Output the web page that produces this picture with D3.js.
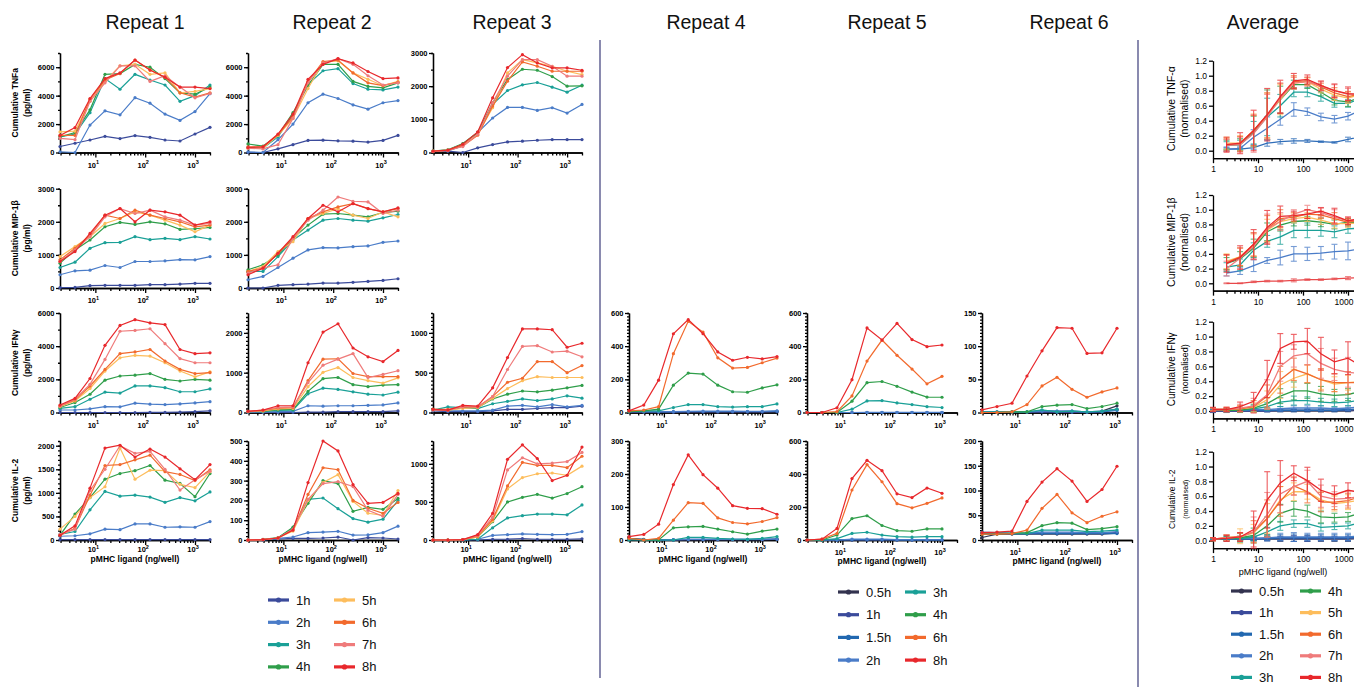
<!DOCTYPE html>
<html><head><meta charset="utf-8">
<script src="https://cdn.jsdelivr.net/npm/d3@7"></script>
<style>body{margin:0;background:#fff}svg{display:block}</style>
</head><body><svg id="c" width="1354" height="687"></svg>
<script>
// ---------------- DATA ----------------
const dosesRepeat = [1.95, 3.9, 7.8, 15.6, 31.25, 62.5, 125, 250, 500, 1000, 2000];
const dosesShort  = [1.95, 3.9, 7.8, 15.6, 31.25, 62.5, 125, 250, 500, 1000];
const dosesAvg    = [2, 4, 8, 16, 31.25, 62.5, 125, 250, 500, 1000, 2000];
const dosesAvg1   = [1, 2, 4, 8, 16, 31.25, 62.5, 125, 250, 500, 1000, 2000];

const timesA   = ["1h","2h","3h","4h","5h","6h","7h","8h"];
const timesB   = ["0.5h","1h","1.5h","2h","3h","4h","6h","8h"];
const timesAll = ["0.5h","1h","1.5h","2h","3h","4h","5h","6h","7h","8h"];

const repeatTitles = ["Repeat 1","Repeat 2","Repeat 3","Repeat 4","Repeat 5","Repeat 6","Average"];

// Repeat 1
const r1TNF = {"1h":[420,650,880,1140,980,1190,1070,880,810,1300,1770],"2h":[50,0,1930,2930,2650,3860,3470,2700,2260,2880,4140],"3h":[1100,1300,2800,5200,4450,5500,5100,4750,3600,4000,4750],"4h":[1100,1400,3000,5500,5550,6200,6000,5200,4200,4100,4600],"5h":[1450,1500,3600,5000,6100,6200,5500,5600,4200,4300,4500],"6h":[1200,1200,3750,5100,5550,6500,5800,5300,4200,3900,4200],"7h":[1000,900,3600,4900,6100,6100,5000,5400,4600,3850,4150],"8h":[1200,1750,3800,5200,5600,6500,5800,5300,4600,4600,4500]};
const r1MIP = {"1h":[10,20,70,80,80,80,100,100,120,140,140],"2h":[400,520,540,680,620,800,800,820,860,850,950],"3h":[620,780,1200,1370,1380,1550,1460,1500,1460,1550,1480],"4h":[750,1150,1450,1850,1980,1920,2000,1940,1770,1790,1830],"5h":[950,1250,1550,1950,2100,2300,2200,2050,1900,1700,1900],"6h":[850,1200,1600,2200,2100,2350,2200,2100,2000,1850,1900],"7h":[800,1150,1550,2150,2400,2250,2350,2150,2050,1900,1950],"8h":[800,1100,1650,2200,2400,2000,2350,2300,2200,1900,2000]};
const r1IFN = {"1h":[0,0,0,0,0,0,10,10,20,50,100],"2h":[150,150,220,350,340,560,500,480,520,580,650],"3h":[250,350,800,1230,1170,1600,1600,1500,1250,1250,1420],"4h":[300,600,1100,1950,2200,2250,2350,2000,1900,2000,1950],"5h":[350,700,1450,2500,3300,3450,3400,3000,2500,2150,2450],"6h":[400,750,1600,2600,3550,3650,3800,3100,2600,2350,2400],"7h":[380,800,1700,3200,4900,4950,5050,4150,3250,3000,3000],"8h":[450,850,2050,4050,5250,5600,5400,5300,3800,3550,3600]};
const r1IL2 = {"1h":[10,10,10,10,10,10,10,10,10,10,10],"2h":[80,90,130,230,220,340,340,270,280,270,390],"3h":[120,180,640,1030,930,950,910,800,900,830,1020],"4h":[100,550,900,1290,1410,1470,1580,1270,1200,920,1410],"5h":[230,500,900,1130,1950,1290,1480,1470,1180,1110,1450],"6h":[100,250,950,1580,1600,1700,1800,1450,1390,1260,1490],"7h":[120,230,1050,1500,2000,1840,1880,1500,1060,1280,1460],"8h":[100,300,1100,1950,2010,1760,1930,1760,1510,1280,1600]};
// Repeat 2
const r2TNF = {"1h":[0,0,260,550,850,870,820,800,730,850,1200],"2h":[50,0,900,2000,3500,4100,3800,3350,3050,3500,3650],"3h":[350,300,1100,2700,4800,5750,5900,4850,4450,4400,4600],"4h":[600,450,1200,2800,4700,6200,6200,5000,4650,4550,4900],"5h":[300,300,1200,2400,4500,6350,6450,5600,5150,4700,5000],"6h":[400,400,1250,2500,5000,6400,6500,5600,4900,4700,4950],"7h":[300,250,550,2400,4900,6300,6600,6200,5400,4750,4900],"8h":[350,400,1300,2700,5150,6200,6600,6300,5700,5200,5250]};
const r2MIP = {"1h":[0,0,80,100,120,150,150,170,200,230,280],"2h":[250,350,620,900,1150,1220,1210,1250,1270,1380,1420],"3h":[500,500,950,1450,1750,2050,2100,2050,2020,2120,2220],"4h":[550,700,1000,1500,1900,2230,2250,2200,2150,2280,2320],"5h":[500,650,1100,1400,2100,2250,2400,2200,2100,2300,2150],"6h":[500,600,1050,1500,2100,2300,2450,2550,2400,2300,2400],"7h":[450,600,700,1500,2050,2350,2750,2620,2600,2250,2350],"8h":[400,600,1050,1550,2100,2500,2300,2550,2400,2300,2420]};
const r2IFN = {"1h":[0,0,0,0,10,10,20,20,20,20,40],"2h":[10,10,20,30,170,160,170,170,180,190,240],"3h":[20,30,50,60,470,610,580,520,460,440,510],"4h":[20,30,70,80,530,850,880,700,650,690,700],"5h":[20,40,90,100,650,1010,1130,880,800,740,870],"6h":[30,50,110,120,800,1340,1350,980,900,900,900],"7h":[30,60,130,140,750,1190,1340,1480,880,960,1050],"8h":[30,60,170,170,1250,2020,2230,1620,1400,1280,1560]};
const r2IL2 = {"1h":[0,0,5,8,8,10,15,0,12,10,5],"2h":[0,0,8,15,37,40,44,25,26,37,70],"3h":[0,2,10,60,205,212,158,108,90,105,200],"4h":[0,3,12,65,185,300,285,145,165,155,210],"5h":[0,2,10,45,200,290,330,195,135,125,250],"6h":[0,2,10,50,230,365,355,200,160,135,190],"7h":[0,2,10,55,205,285,295,270,150,120,230],"8h":[0,2,10,50,290,500,450,280,185,190,235]};
// Repeat 3
const r3TNF = {"1h":[30,40,0,140,240,320,340,370,390,390,390],"2h":[30,50,200,600,1040,1360,1360,1270,1350,1190,1450],"3h":[50,70,250,600,1450,1870,2040,2110,1970,1820,2030],"4h":[40,80,270,600,1500,2200,2510,2480,2290,2000,2010],"5h":[40,70,230,550,1350,2400,2800,2700,2600,2450,2350],"6h":[30,60,200,520,1400,2150,2730,2600,2450,2450,2450],"7h":[30,60,180,550,1500,2300,2800,2800,2600,2300,2300],"8h":[40,70,250,620,1650,2560,2950,2700,2550,2550,2480]};
const r3IFN = {"1h":[20,10,10,10,20,40,40,50,60,60,80],"2h":[30,20,20,20,30,80,90,70,100,70,90],"3h":[30,70,60,50,110,140,170,150,170,210,180],"4h":[40,30,60,60,170,230,270,260,280,310,340],"5h":[40,30,50,60,180,300,400,450,440,440,440],"6h":[40,40,70,70,200,380,430,640,640,500,590],"7h":[30,30,70,70,200,540,830,840,760,770,700],"8h":[40,30,90,80,310,690,1050,1050,1040,820,870]};
const r3IL2 = {"1h":[0,0,0,0,10,10,20,10,10,10,15],"2h":[0,0,0,10,60,70,80,75,70,75,110],"3h":[0,0,0,10,160,290,320,340,340,330,460],"4h":[0,0,5,40,240,500,560,600,550,610,700],"5h":[0,0,5,40,250,670,820,870,880,850,970],"6h":[0,0,5,50,270,710,1020,980,980,950,1100],"7h":[0,0,5,60,300,920,1080,1000,1010,1030,1150],"8h":[0,0,5,70,350,1060,1250,1070,780,850,1220]};
// Repeat 4
const r4IFN = {"0.5h":[5,3,3,3,3,3,3,3,3,3,5],"1h":[3,2,2,2,3,3,3,3,3,3,5],"1.5h":[5,5,5,5,6,6,6,6,6,6,8],"2h":[5,5,5,5,7,8,8,8,7,7,10],"3h":[5,10,10,30,48,48,35,33,35,35,52],"4h":[5,10,20,165,238,232,165,125,122,148,167],"6h":[10,15,35,355,550,485,330,268,272,300,328],"8h":[10,45,195,475,560,475,365,315,333,323,337]};
const r4IL2 = {"0.5h":[5,2,0,0,1,1,1,1,1,1,2],"1h":[3,1,0,0,1,1,1,1,1,1,2],"1.5h":[2,1,0,1,2,2,2,2,2,2,3],"2h":[2,1,0,1,2,2,2,2,2,2,3],"3h":[0,0,0,0,8,8,5,3,2,5,10],"4h":[5,0,0,37,40,41,33,25,18,27,33],"6h":[5,0,5,60,113,111,67,53,49,56,68],"8h":[10,17,48,168,258,198,157,104,96,95,78]};
// Repeat 5
const r5IFN = {"0.5h":[0,0,0,0,0,0,0,0,0,0],"1h":[0,0,0,0,0,0,0,0,0,0],"1.5h":[0,0,0,0,0,0,0,0,0,0],"2h":[0,0,0,0,1,1,1,1,1,1],"3h":[0,0,0,20,70,72,58,48,35,30],"4h":[0,0,0,68,180,187,158,123,93,92],"6h":[0,0,5,100,310,437,345,262,173,218],"8h":[0,0,28,198,510,437,537,440,397,407]};
const r5IL2 = {"0.5h":[0,0,0,0,0,0,0,0,0,0],"1h":[0,0,0,0,0,0,0,0,0,0],"1.5h":[0,0,0,2,2,2,1,1,1,1],"2h":[0,0,0,5,5,5,2,2,2,2],"3h":[0,0,8,40,47,30,20,18,20,20],"4h":[0,0,30,130,147,88,57,53,67,67],"6h":[0,5,40,303,457,353,220,195,222,255],"8h":[0,5,70,372,483,420,280,257,315,283]};
// Repeat 6
const r6IFN = {"0.5h":[0,0,0,0,1,1,1,0,2,10],"1h":[0,0,0,0,1,0,0,0,1,5],"1.5h":[1,1,1,1,3,2,2,1,1,3],"2h":[1,1,1,1,2,2,2,1,2,4],"3h":[1,1,1,1,4,1,2,1,2,5],"4h":[0,0,1,1,9,11,12,6,9,14],"6h":[0,0,1,12,40,53,35,23,31,37],"8h":[4,9,14,55,93,128,127,89,90,127]};
const r6IL2 = {"0.5h":[5,12,12,12,12,12,12,12,12,14],"1h":[15,14,13,13,14,14,14,14,14,15],"1.5h":[13,13,13,13,13,13,13,13,13,13],"2h":[16,15,14,14,16,16,16,15,15,17],"3h":[15,15,13,13,20,20,20,17,18,20],"4h":[12,12,14,15,29,35,34,21,23,27],"6h":[12,12,13,20,64,92,55,35,48,57],"8h":[15,16,18,78,117,144,119,78,102,149]};
// Average (normalised) means and SEM
const avgTNF = {"1h":[0.02,0.02,0.04,0.10,0.12,0.13,0.13,0.12,0.11,0.15,0.19],"2h":[0.02,0.03,0.18,0.30,0.42,0.55,0.52,0.45,0.42,0.46,0.55],"3h":[0.07,0.08,0.24,0.45,0.60,0.78,0.78,0.72,0.63,0.63,0.70],"4h":[0.08,0.08,0.26,0.48,0.68,0.88,0.88,0.78,0.67,0.65,0.72],"5h":[0.10,0.10,0.27,0.47,0.68,0.90,0.92,0.82,0.74,0.70,0.76],"6h":[0.08,0.09,0.27,0.47,0.70,0.92,0.93,0.85,0.77,0.72,0.76],"7h":[0.07,0.08,0.23,0.45,0.70,0.90,0.92,0.86,0.80,0.75,0.77],"8h":[0.08,0.10,0.27,0.48,0.72,0.93,0.95,0.87,0.80,0.76,0.75]};
const avgTNFErr = {"1h":[0.02,0.02,0.02,0.04,0.03,0.03,0.02,0.01,0.01,0.03,0.03],"2h":[0.03,0.03,0.10,0.15,0.08,0.09,0.05,0.05,0.05,0.05,0.04],"3h":[0.05,0.06,0.15,0.25,0.15,0.06,0.06,0.06,0.05,0.05,0.04],"4h":[0.06,0.08,0.20,0.33,0.18,0.06,0.05,0.05,0.06,0.06,0.05],"5h":[0.08,0.10,0.22,0.30,0.20,0.08,0.05,0.05,0.07,0.07,0.05],"6h":[0.08,0.10,0.20,0.30,0.20,0.08,0.05,0.05,0.07,0.07,0.05],"7h":[0.08,0.10,0.25,0.30,0.20,0.08,0.06,0.06,0.08,0.08,0.05],"8h":[0.10,0.14,0.27,0.35,0.22,0.10,0.06,0.06,0.09,0.09,0.06]};
const avgMIP = {"1h":[0.00,0.00,0.02,0.03,0.03,0.04,0.05,0.05,0.06,0.07,0.08],"2h":[0.14,0.17,0.24,0.31,0.35,0.40,0.40,0.41,0.43,0.44,0.47],"3h":[0.22,0.25,0.45,0.57,0.63,0.72,0.72,0.72,0.70,0.74,0.75],"4h":[0.27,0.33,0.48,0.70,0.79,0.84,0.85,0.83,0.80,0.83,0.83],"5h":[0.30,0.36,0.52,0.72,0.84,0.88,0.90,0.86,0.81,0.81,0.82],"6h":[0.28,0.36,0.53,0.74,0.88,0.90,0.94,0.93,0.88,0.83,0.86],"7h":[0.20,0.34,0.50,0.74,0.84,0.94,1.00,0.96,0.90,0.85,0.87],"8h":[0.27,0.35,0.53,0.76,0.91,0.92,0.94,0.98,0.92,0.85,0.88]};
const avgMIPErr = {"1h":[0.005,0.005,0.01,0.01,0.01,0.02,0.01,0.01,0.01,0.02,0.02],"2h":[0.04,0.05,0.08,0.04,0.10,0.10,0.09,0.09,0.10,0.12,0.10],"3h":[0.06,0.08,0.10,0.08,0.10,0.10,0.10,0.08,0.08,0.06,0.06],"4h":[0.08,0.10,0.12,0.12,0.08,0.06,0.06,0.06,0.06,0.05,0.05],"5h":[0.10,0.12,0.15,0.15,0.10,0.06,0.06,0.06,0.06,0.05,0.05],"6h":[0.10,0.12,0.16,0.18,0.12,0.06,0.06,0.05,0.08,0.05,0.05],"7h":[0.10,0.14,0.18,0.20,0.12,0.06,0.06,0.06,0.10,0.05,0.05],"8h":[0.12,0.16,0.20,0.23,0.14,0.06,0.06,0.05,0.10,0.05,0.05]};
const avgIFN = {"0.5h":[0.00,0.00,0.00,0.00,0.00,0.00,0.00,0.00,0.00,0.00,0.00,0.01],"1h":[0.00,0.00,0.00,0.00,0.00,0.01,0.01,0.01,0.01,0.01,0.01,0.02],"1.5h":[0.01,0.01,0.01,0.01,0.01,0.01,0.01,0.01,0.01,0.01,0.02,0.03],"2h":[0.01,0.01,0.01,0.02,0.02,0.03,0.04,0.04,0.04,0.03,0.04,0.06],"3h":[0.02,0.01,0.01,0.03,0.06,0.12,0.14,0.14,0.12,0.11,0.12,0.15],"4h":[0.02,0.01,0.01,0.04,0.10,0.20,0.27,0.27,0.23,0.21,0.22,0.27],"5h":[0.02,0.02,0.03,0.05,0.15,0.35,0.44,0.50,0.42,0.36,0.38,0.40],"6h":[0.02,0.02,0.03,0.06,0.20,0.42,0.56,0.50,0.42,0.38,0.38,0.38],"7h":[0.02,0.02,0.04,0.07,0.22,0.60,0.74,0.77,0.64,0.56,0.52,0.50],"8h":[0.02,0.02,0.06,0.13,0.43,0.84,0.93,0.94,0.77,0.66,0.71,0.60]};
const avgIFNErr = {"0.5h":[0.01,0.01,0.01,0.01,0.01,0.01,0.01,0.01,0.01,0.01,0.01,0.01],"1h":[0.02,0.02,0.01,0.01,0.01,0.01,0.01,0.01,0.01,0.01,0.01,0.02],"1.5h":[0.03,0.02,0.02,0.02,0.02,0.02,0.02,0.02,0.02,0.02,0.02,0.02],"2h":[0.02,0.02,0.02,0.02,0.02,0.03,0.03,0.03,0.03,0.02,0.03,0.03],"3h":[0.01,0.02,0.02,0.04,0.05,0.06,0.06,0.05,0.05,0.05,0.05,0.05],"4h":[0.02,0.02,0.03,0.05,0.08,0.10,0.12,0.10,0.10,0.08,0.08,0.08],"5h":[0.02,0.03,0.04,0.06,0.12,0.18,0.12,0.12,0.13,0.10,0.10,0.10],"6h":[0.02,0.02,0.04,0.08,0.15,0.18,0.15,0.12,0.15,0.12,0.15,0.12],"7h":[0.02,0.03,0.05,0.10,0.20,0.20,0.15,0.15,0.20,0.15,0.20,0.15],"8h":[0.03,0.03,0.06,0.12,0.25,0.20,0.10,0.17,0.22,0.16,0.22,0.15]};
const avgIL2 = {"0.5h":[0.02,0.02,0.02,0.02,0.02,0.02,0.02,0.02,0.02,0.02,0.02,0.03],"1h":[0.02,0.02,0.02,0.02,0.03,0.03,0.03,0.03,0.03,0.03,0.03,0.04],"1.5h":[0.02,0.02,0.03,0.03,0.03,0.04,0.04,0.04,0.04,0.04,0.04,0.05],"2h":[0.02,0.03,0.03,0.03,0.04,0.05,0.05,0.05,0.05,0.05,0.05,0.07],"3h":[0.02,0.03,0.03,0.05,0.12,0.20,0.23,0.23,0.18,0.19,0.20,0.25],"4h":[0.02,0.03,0.04,0.07,0.20,0.37,0.43,0.40,0.32,0.31,0.32,0.38],"5h":[0.02,0.04,0.06,0.10,0.30,0.55,0.66,0.66,0.55,0.50,0.52,0.55],"6h":[0.02,0.04,0.05,0.12,0.30,0.53,0.74,0.66,0.52,0.52,0.54,0.60],"7h":[0.02,0.04,0.05,0.12,0.35,0.63,0.73,0.80,0.60,0.56,0.57,0.60],"8h":[0.02,0.03,0.05,0.15,0.55,0.78,0.91,0.81,0.68,0.62,0.68,0.65]};
const avgIL2Err = {"0.5h":[0.01,0.02,0.02,0.02,0.02,0.03,0.03,0.03,0.03,0.03,0.03,0.03],"1h":[0.01,0.02,0.02,0.02,0.03,0.03,0.04,0.04,0.03,0.03,0.03,0.03],"1.5h":[0.01,0.02,0.02,0.03,0.03,0.04,0.05,0.04,0.04,0.04,0.04,0.04],"2h":[0.01,0.03,0.03,0.03,0.04,0.05,0.06,0.05,0.05,0.05,0.05,0.05],"3h":[0.01,0.02,0.03,0.05,0.06,0.06,0.05,0.05,0.05,0.04,0.04,0.04],"4h":[0.02,0.03,0.06,0.10,0.12,0.12,0.10,0.08,0.08,0.06,0.06,0.06],"5h":[0.02,0.04,0.10,0.12,0.20,0.18,0.12,0.10,0.12,0.10,0.10,0.10],"6h":[0.02,0.04,0.05,0.15,0.25,0.20,0.12,0.15,0.13,0.10,0.10,0.10],"7h":[0.02,0.04,0.06,0.20,0.30,0.25,0.12,0.15,0.15,0.10,0.10,0.10],"8h":[0.02,0.04,0.06,0.25,0.38,0.30,0.10,0.18,0.15,0.12,0.10,0.10]};

// ---------------- STYLE ----------------
const colors = {"0.5h":"#33334f","1h":"#3b4b9b","1.5h":"#2268b0","2h":"#4a7cc8","3h":"#1aa097","4h":"#2f9e4a","5h":"#fdbd5c","6h":"#f26a2d","7h":"#ef7b7b","8h":"#e8282c"};
const FONT = "'Liberation Sans', Arial, Helvetica, sans-serif";
const W = 1354;
const svg = d3.select("#c");

function logTicks(dom, major) {
  const out = [];
  for (let e = -1; e <= 4; e++) for (let m = 1; m <= 9; m++) {
    const v = m * Math.pow(10, e);
    if (v >= dom[0] * 0.999 && v <= dom[1] * 1.001 && ((m === 1) === major)) out.push(v);
  }
  return out;
}
function styleAxis(sel, w) {
  sel.selectAll("path,line").attr("stroke", "#000").attr("stroke-width", w);
}

// ---------------- REPEAT PANELS ----------------
function repeatPanel(o) {
  const x = d3.scaleLog().domain([1.95, 2000]).range(o.col);
  const y = d3.scaleLinear().domain([0, o.ymax]).range(o.row);
  const g = svg.append("g");
  g.append("g").attr("transform", `translate(0,${o.row[0]})`)
    .call(d3.axisBottom(x).tickValues(logTicks(x.domain(), false)).tickSize(3).tickSizeOuter(0).tickFormat(""))
    .call(s => styleAxis(s, 1.3));
  g.append("g").attr("transform", `translate(0,${o.row[0]})`)
    .call(d3.axisBottom(x).tickValues(logTicks(x.domain(), true)).tickSize(5).tickSizeOuter(0).tickFormat(""))
    .call(s => styleAxis(s, 1.3));
  const xl = g.selectAll("text.xt").data(logTicks(x.domain(), true)).join("text")
    .attr("x", d => x(d) - 2).attr("y", o.row[0] + (o.tickOff || 15)).attr("text-anchor", "middle")
    .attr("font-family", FONT).attr("font-weight", "bold").attr("font-size", 7.5);
  xl.append("tspan").text("10");
  xl.append("tspan").attr("dy", -3.5).attr("font-size", 5.5).text(d => Math.round(Math.log10(d)));
  const minor = d3.range(0, o.ymax + 1e-9, o.minor);
  g.append("g").attr("transform", `translate(${o.col[0]},0)`)
    .call(d3.axisLeft(y).tickValues(minor).tickSize(2).tickSizeOuter(0).tickFormat(""))
    .call(s => styleAxis(s, 1.3));
  g.append("g").attr("transform", `translate(${o.col[0]},0)`)
    .call(d3.axisLeft(y).tickValues(o.yticks).tickSize(4).tickPadding(1.5).tickSizeOuter(0).tickFormat(d3.format("d")))
    .call(s => styleAxis(s, 1.3))
    .call(s => s.selectAll("text").attr("font-family", FONT).attr("font-weight", "bold").attr("font-size", 7.5).attr("fill", "#000"));
  const line = d3.line().x(d => x(d[0])).y(d => y(d[1]));
  o.keys.forEach(k => {
    const pts = o.doses.map((d, i) => [d, o.data[k][i]]);
    g.append("path").attr("d", line(pts)).attr("fill", "none").attr("stroke", colors[k]).attr("stroke-width", 1.2);
    g.selectAll(null).data(pts).join("circle").attr("cx", d => x(d[0])).attr("cy", d => y(d[1])).attr("r", 1.6).attr("fill", colors[k]);
  });
  if (o.ylabel) {
    const cy = (o.row[0] + o.row[1]) / 2;
    [[o.ylabel, 18], ["(pg/ml)", 30]].forEach(([t, xx]) => {
      g.append("text").attr("transform", `translate(${xx},${cy}) rotate(-90)`).attr("text-anchor", "middle")
        .attr("font-family", FONT).attr("font-weight", "bold").attr("font-size", 8.5).text(t);
    });
  }
  if (o.xlabel) {
    g.append("text").attr("x", (o.col[0] + o.col[1]) / 2).attr("y", o.row[0] + o.xlabel).attr("text-anchor", "middle")
      .attr("font-family", FONT).attr("font-weight", "bold").attr("font-size", 8.5).text("pMHC ligand (ng/well)");
  }
}

const cols = [[60, 210], [248, 398], [433, 582], [629, 777], [807, 957], [982, 1132]];
const rows = {TNF: [152.5, 53], MIP: [288, 188.7], IFN: [412.5, 313], IL2: [540, 441]};

repeatPanel({col: cols[0], row: rows.TNF, ymax: 7000, yticks: [0,2000,4000,6000], minor: 1000, data: r1TNF, keys: timesA, doses: dosesRepeat, ylabel: "Cumulative TNFa"});
repeatPanel({col: cols[0], row: rows.MIP, ymax: 3000, yticks: [0,1000,2000,3000], minor: 500, data: r1MIP, keys: timesA, doses: dosesRepeat, ylabel: "Cumulative MIP-1β"});
repeatPanel({col: cols[0], row: rows.IFN, ymax: 6000, yticks: [0,2000,4000,6000], minor: 1000, data: r1IFN, keys: timesA, doses: dosesRepeat, ylabel: "Cumulative IFNγ"});
repeatPanel({col: cols[0], row: rows.IL2, ymax: 2100, yticks: [0,500,1000,1500,2000], minor: 100, data: r1IL2, keys: timesA, doses: dosesRepeat, ylabel: "Cumulative IL-2", xlabel: 22, tickOff: 12});

repeatPanel({col: cols[1], row: rows.TNF, ymax: 7000, yticks: [0,2000,4000,6000], minor: 1000, data: r2TNF, keys: timesA, doses: dosesRepeat});
repeatPanel({col: cols[1], row: rows.MIP, ymax: 3000, yticks: [0,1000,2000,3000], minor: 500, data: r2MIP, keys: timesA, doses: dosesRepeat});
repeatPanel({col: cols[1], row: rows.IFN, ymax: 2500, yticks: [0,1000,2000], minor: 100, data: r2IFN, keys: timesA, doses: dosesRepeat});
repeatPanel({col: cols[1], row: rows.IL2, ymax: 500, yticks: [0,100,200,300,400,500], minor: 20, data: r2IL2, keys: timesA, doses: dosesRepeat, xlabel: 22, tickOff: 12});

repeatPanel({col: cols[2], row: rows.TNF, ymax: 3000, yticks: [0,1000,2000,3000], minor: 500, data: r3TNF, keys: timesA, doses: dosesRepeat});
repeatPanel({col: cols[2], row: rows.IFN, ymax: 1250, yticks: [0,500,1000], minor: 50, data: r3IFN, keys: timesA, doses: dosesRepeat});
repeatPanel({col: cols[2], row: rows.IL2, ymax: 1300, yticks: [0,500,1000], minor: 50, data: r3IL2, keys: timesA, doses: dosesRepeat, xlabel: 22, tickOff: 12});

repeatPanel({col: cols[3], row: rows.IFN, ymax: 600, yticks: [0,200,400,600], minor: 20, data: r4IFN, keys: timesB, doses: dosesRepeat});
repeatPanel({col: cols[3], row: rows.IL2, ymax: 300, yticks: [0,100,200,300], minor: 10, data: r4IL2, keys: timesB, doses: dosesRepeat, xlabel: 22, tickOff: 12});

repeatPanel({col: cols[4], row: rows.IFN, ymax: 600, yticks: [0,200,400,600], minor: 20, data: r5IFN, keys: timesB, doses: dosesShort});
repeatPanel({col: cols[4], row: rows.IL2, ymax: 600, yticks: [0,200,400,600], minor: 20, data: r5IL2, keys: timesB, doses: dosesShort, xlabel: 24});

repeatPanel({col: cols[5], row: rows.IFN, ymax: 150, yticks: [0,50,100,150], minor: 5, data: r6IFN, keys: timesB, doses: dosesShort});
repeatPanel({col: cols[5], row: rows.IL2, ymax: 200, yticks: [0,50,100,150,200], minor: 5, data: r6IL2, keys: timesB, doses: dosesShort, xlabel: 24});

// ---------------- AVERAGE PANELS ----------------
function avgPanel(o) {
  const x = d3.scaleLog().domain([1, Math.pow(10, 3.5)]).range([1213, 1213 + 45 * 3.5]);
  const k = (o.y0 - o.y12) / 1.2;
  const y = d3.scaleLinear().domain([-0.1, 1.2]).range([o.y0 + 0.1 * k, o.y12]);
  const g = svg.append("g");
  const yb = y(-0.1);
  g.append("g").attr("transform", `translate(0,${yb})`)
    .call(d3.axisBottom(x).tickValues(logTicks(x.domain(), false)).tickSize(3).tickSizeOuter(0).tickFormat(""))
    .call(s => styleAxis(s, 1.3));
  g.append("g").attr("transform", `translate(0,${yb})`)
    .call(d3.axisBottom(x).tickValues(logTicks(x.domain(), true)).tickSize(5).tickSizeOuter(0).tickFormat(d3.format("d")).tickPadding(3))
    .call(s => styleAxis(s, 1.3))
    .call(s => s.selectAll("text").attr("font-family", FONT).attr("font-size", 8.5).attr("fill", "#000")
      .each(function(d) {
        const w = this.getComputedTextLength();
        if (x(d) + w / 2 > W - 1) d3.select(this).attr("text-anchor", "end").attr("x", W - 1 - x(d));
      }));
  g.append("g").attr("transform", `translate(1213,0)`)
    .call(d3.axisLeft(y).tickValues([0, 0.2, 0.4, 0.6, 0.8, 1.0, 1.2]).tickSize(4).tickPadding(2).tickSizeOuter(0).tickFormat(d3.format(".1f")))
    .call(s => styleAxis(s, 1.3))
    .call(s => s.selectAll("text").attr("font-family", FONT).attr("font-size", 8.5).attr("fill", "#000"));
  const line = d3.line().x(d => x(d[0])).y(d => y(d[1]));
  o.keys.forEach(kk => {
    const col = (o.colorOverride && o.colorOverride[kk]) || colors[kk];
    const pts = o.doses.map((d, i) => [d, o.data[kk][i], o.err[kk][i]]);
    const eb = g.append("g").attr("stroke", col).attr("stroke-width", 1.1).attr("opacity", 0.75);
    eb.selectAll(null).data(pts).join("line").attr("x1", d => x(d[0])).attr("x2", d => x(d[0]))
      .attr("y1", d => y(d[1] - d[2])).attr("y2", d => y(d[1] + d[2]));
    eb.selectAll(null).data(pts).join("line").attr("x1", d => x(d[0]) - 3).attr("x2", d => x(d[0]) + 3)
      .attr("y1", d => y(d[1] + d[2])).attr("y2", d => y(d[1] + d[2]));
    eb.selectAll(null).data(pts).join("line").attr("x1", d => x(d[0]) - 3).attr("x2", d => x(d[0]) + 3)
      .attr("y1", d => y(d[1] - d[2])).attr("y2", d => y(d[1] - d[2]));
    g.append("path").attr("d", line(pts)).attr("fill", "none").attr("stroke", col).attr("stroke-width", 1.3);
  });
  const cy = (o.y0 + o.y12) / 2 + 3;
  [[o.ylabel, 1175, o.fs], ["(normalised)", 1188, o.fs2]].forEach(([t, xx, fs]) => {
    g.append("text").attr("transform", `translate(${xx},${cy}) rotate(-90)`).attr("text-anchor", "middle")
      .attr("font-family", FONT).attr("font-size", fs).text(t);
  });
  if (o.xlabel) {
    g.append("text").attr("x", 1283).attr("y", yb + 27).attr("text-anchor", "middle")
      .attr("font-family", FONT).attr("font-size", 9).text("pMHC ligand (ng/well)");
  }
}
avgPanel({y0: 150.7, y12: 60.7, data: avgTNF, err: avgTNFErr, keys: timesA, doses: dosesAvg, ylabel: "Cumulative TNF-α", fs: 10.5, fs2: 10.5, colorOverride: {"1h": "#2f6db8"}});
avgPanel({y0: 283.3, y12: 195, data: avgMIP, err: avgMIPErr, keys: timesA, doses: dosesAvg, ylabel: "Cumulative MIP-1β", fs: 10.5, fs2: 10.5, colorOverride: {"1h": "#e8484a"}});
avgPanel({y0: 411, y12: 321.7, data: avgIFN, err: avgIFNErr, keys: timesAll, doses: dosesAvg1, ylabel: "Cumulative IFNγ", fs: 10, fs2: 9});
avgPanel({y0: 540.7, y12: 451.7, data: avgIL2, err: avgIL2Err, keys: timesAll, doses: dosesAvg1, ylabel: "Cumulative IL-2", fs: 8.5, fs2: 7, xlabel: true});

// ---------------- TITLES, SEPARATORS, LEGENDS ----------------
const titleX = [145, 332, 512, 706, 887, 1069, 1263];
svg.selectAll("text.title").data(repeatTitles).join("text").attr("class", "title")
  .attr("x", (d, i) => titleX[i]).attr("y", 29).attr("text-anchor", "middle")
  .attr("font-family", FONT).attr("font-size", 19.5).attr("fill", "#111").text(d => d);

[[600, 40, 678], [1138, 40, 687]].forEach(([xx, a, b]) => {
  svg.append("line").attr("x1", xx).attr("x2", xx).attr("y1", a).attr("y2", b).attr("stroke", "#3b3c7a").attr("stroke-width", 1.2);
});

function legend(keys, perCol, x0, colGap, y0, rowGap) {
  const g = svg.append("g");
  keys.forEach((k, i) => {
    const c = Math.floor(i / perCol), r = i % perCol;
    const lx = x0 + c * colGap, ly = y0 + r * rowGap;
    g.append("line").attr("x1", lx).attr("x2", lx + 21).attr("y1", ly).attr("y2", ly).attr("stroke", colors[k]).attr("stroke-width", 3.2);
    g.append("circle").attr("cx", lx + 10.5).attr("cy", ly).attr("r", 2.6).attr("fill", colors[k]);
    g.append("text").attr("x", lx + 28).attr("y", ly + 4.5).attr("font-family", "'Liberation Sans Narrow','Liberation Sans',Arial,sans-serif")
      .attr("font-size", 13).attr("fill", "#111").text(k);
  });
}
legend(timesA, 4, 268, 66, 600, 22.3);
legend(timesB, 4, 838, 67, 592, 22.7);
legend(timesAll, 5, 1231, 69, 591, 21.6);
</script></body></html>
